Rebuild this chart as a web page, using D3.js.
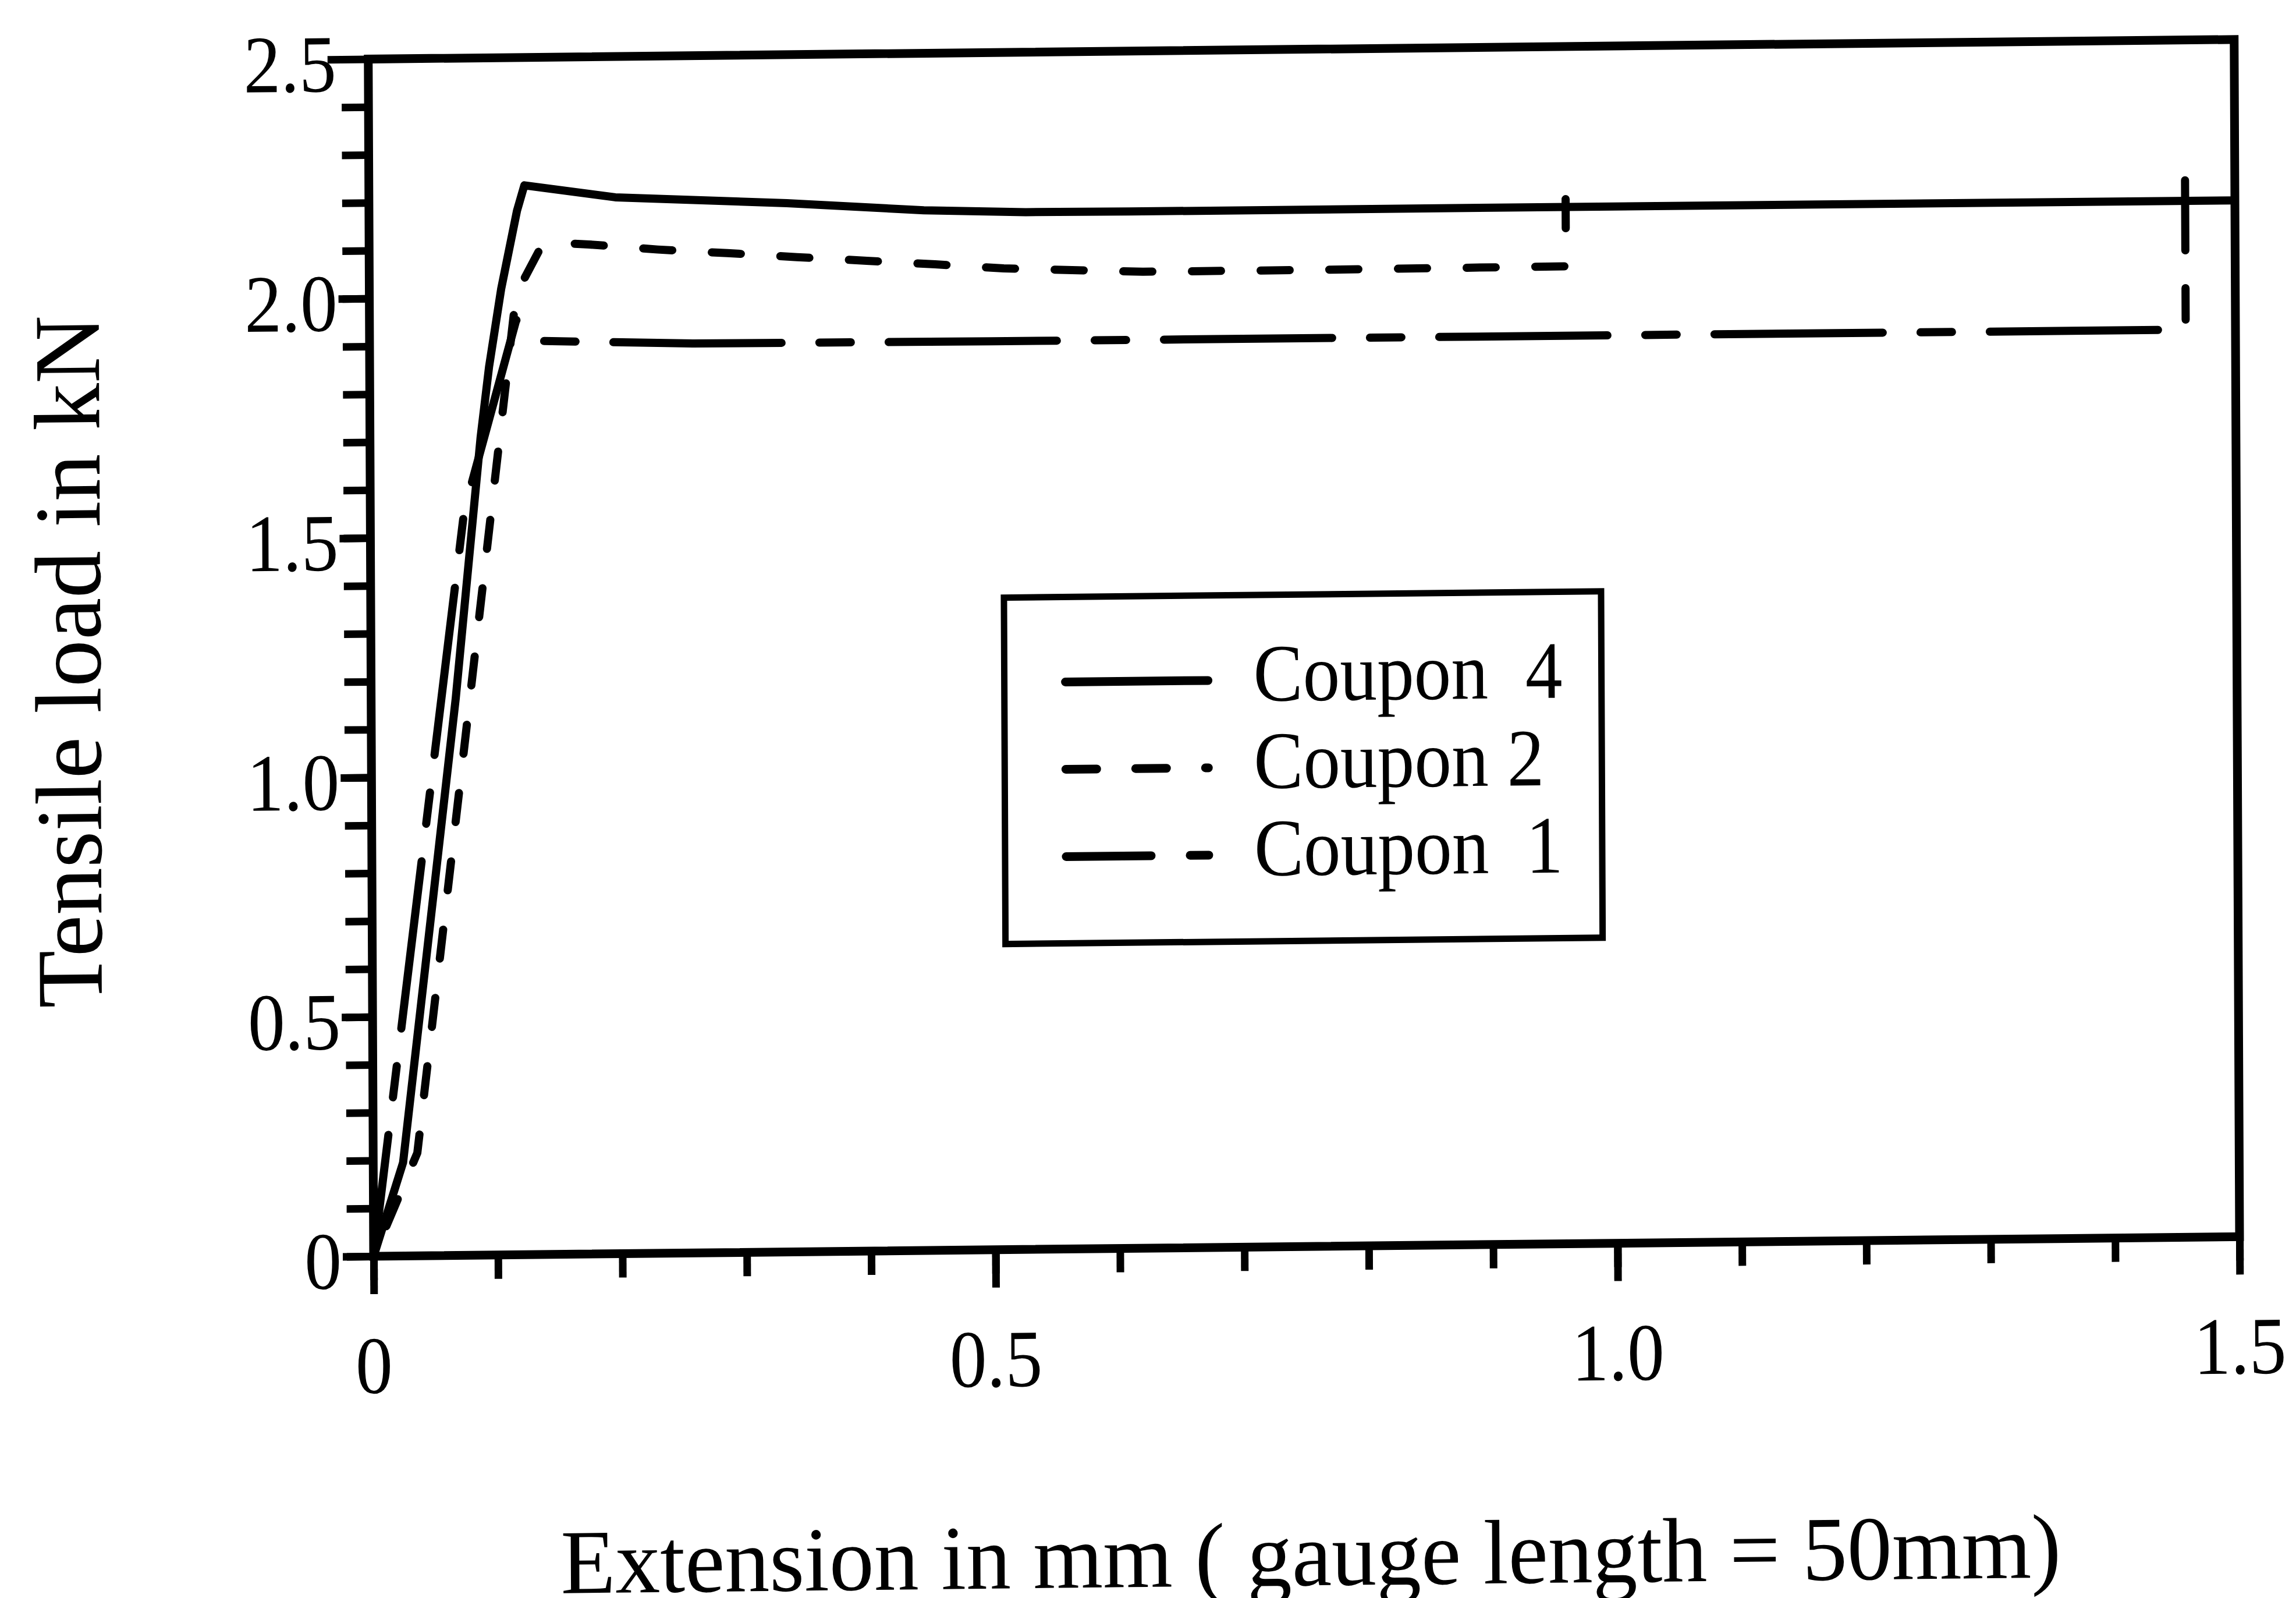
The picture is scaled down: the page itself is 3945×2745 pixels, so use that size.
<!DOCTYPE html>
<html lang="en">
<head>
<meta charset="utf-8">
<title>Tensile load against extension</title>
<script src="https://cdn.jsdelivr.net/npm/d3@7"></script>
<style>
  body { margin: 0; background: #fff; }
  svg text { font-family: "Liberation Serif", "Times New Roman", serif; fill: #000; white-space: pre; }
</style>
</head>
<body>
<script>
// extension in mm, tensile load in kN, one array per coupon
var coupon4 = [[0, 0], [0.024, 0.195], [0.068, 1.163], [0.089, 1.709], [0.096, 1.855], [0.106, 2.017],
               [0.119, 2.18], [0.125, 2.233], [0.198, 2.206], [0.336, 2.19], [0.446, 2.172], [0.528, 2.166],
               [0.611, 2.165], [1.0, 2.165], [1.5, 2.164]];
var coupon2 = [[0, 0], [0.0355, 0.215], [0.0758, 1.085], [0.118, 2.006], [0.138, 2.103], [0.152, 2.112],
               [0.177, 2.108], [0.232, 2.096], [0.288, 2.087], [0.344, 2.077], [0.400, 2.068], [0.455, 2.059],
               [0.510, 2.049], [0.565, 2.044], [0.622, 2.039], [0.75, 2.039], [0.962, 2.041], [0.962, 2.198]];
var coupon1 = [[0, 0], [0.0755, 1.555], [0.118, 1.952], [0.131, 1.908], [0.26, 1.899], [0.5, 1.897],
               [1.0, 1.896], [1.46, 1.895], [1.46, 2.207]];

var xTickLabels = ["0", "0.5", "1.0", "1.5"];
var yTickLabels = ["0", "0.5", "1.0", "1.5", "2.0", "2.5"];
var legendLabels = ["Coupon  4", "Coupon 2", "Coupon  1"];

var W = 3945, H = 2745;
var x = d3.scaleLinear().domain([0, 1.5]).range([642, 3848]);
var y = d3.scaleLinear().domain([0, 2.5]).range([2158, 101.5]);

var svg = d3.select("body").append("svg")
    .attr("width", W).attr("height", H);
svg.append("rect").attr("width", W).attr("height", H).attr("fill", "#fff");

// the printed figure sits slightly askew on the page
var g = svg.append("g")
    .attr("transform", "matrix(1,-0.0105,0.0045,1,-9.711,6.741)");

// frame
g.append("rect")
    .attr("x", x(0)).attr("y", y(2.5))
    .attr("width", x(1.5) - x(0)).attr("height", y(0) - y(2.5))
    .attr("fill", "none").attr("stroke", "#000").attr("stroke-width", 15);

function tickAxis(axis, tx, ty) {
  var a = g.append("g").attr("transform", "translate(" + tx + "," + ty + ")").call(axis);
  a.select(".domain").remove();
  a.selectAll("line").attr("stroke", "#000").attr("stroke-width", 13);
  a.selectAll("text").remove();
  return a;
}

tickAxis(d3.axisLeft(y).tickValues(d3.range(0, 25).map(function(i) { return i / 10; })).tickSize(46), x(0), 0);
tickAxis(d3.axisLeft(y).tickValues([0, 0.5, 1.0, 1.5, 2.0]).tickSize(53), x(0), 0);
tickAxis(d3.axisLeft(y).tickValues([2.5]).tickSize(70), x(0), 0);
tickAxis(d3.axisBottom(x).tickValues(d3.range(0, 16).map(function(i) { return i / 10; })).tickSize(41), 0, y(0));
tickAxis(d3.axisBottom(x).tickValues([0, 0.5, 1.0, 1.5]).tickSize(65), 0, y(0));

// tick labels
g.selectAll(".ylab").data(yTickLabels).enter().append("text")
    .attr("class", "ylab")
    .attr("text-anchor", "end")
    .attr("font-size", 140)
    .attr("transform", function(d) { return "translate(587," + (y(+d) + 55) + ") scale(0.91,1)"; })
    .text(function(d) { return d; });

g.selectAll(".xlab").data(xTickLabels).enter().append("text")
    .attr("class", "xlab")
    .attr("text-anchor", "middle")
    .attr("font-size", 140)
    .attr("transform", function(d) { return "translate(" + x(+d) + "," + (y(0) + 235) + ") scale(0.91,1)"; })
    .text(function(d) { return d; });

// axis titles
g.append("text")
    .attr("text-anchor", "middle")
    .attr("font-size", 162)
    .attr("transform", "translate(177,1131) rotate(-90)")
    .text("Tensile load in kN");

g.append("text")
    .attr("text-anchor", "middle")
    .attr("font-size", 157)
    .attr("transform", "translate(2250,2740) scale(0.98,1)")
    .text("Extension in mm ( gauge length = 50mm)");

// curves
var line = d3.line()
    .x(function(d) { return x(d[0]); })
    .y(function(d) { return y(d[1]); });

// pixel length along a curve up to extension xt
function lengthTo(data, xt) {
  var len = 0;
  for (var i = 1; i < data.length; i++) {
    var x0 = x(data[i - 1][0]), y0 = y(data[i - 1][1]);
    var x1 = x(data[i][0]), y1 = y(data[i][1]);
    if (data[i][0] >= xt && data[i][0] > data[i - 1][0]) {
      var t = (xt - data[i - 1][0]) / (data[i][0] - data[i - 1][0]);
      return len + t * Math.hypot(x1 - x0, y1 - y0);
    }
    len += Math.hypot(x1 - x0, y1 - y0);
  }
  return len;
}

// dash phase: a short dash of coupon 1 and a dash of coupon 2 begin just after each peak
var off1 = (354 - lengthTo(coupon1, x.invert(942))) % 473;
var off2 = (0 - lengthTo(coupon2, x.invert(1113))) % 118;

var series = [
  { data: coupon4, dash: null, offset: 0 },
  { data: coupon2, dash: "50 68", offset: off2 },
  { data: coupon1, dash: "289 65 54 65", offset: off1 }
];

series.forEach(function(s) {
  g.append("path")
      .attr("d", line(s.data))
      .attr("fill", "none")
      .attr("stroke", "#000")
      .attr("stroke-width", 14)
      .attr("stroke-linejoin", "round")
      .attr("stroke-linecap", "round")
      .attr("stroke-dasharray", s.dash)
      .attr("stroke-dashoffset", s.offset);
});

// legend
var legend = g.append("g");
legend.append("rect")
    .attr("x", 1730).attr("y", 1038).attr("width", 1026).attr("height", 595)
    .attr("fill", "#fff").attr("stroke", "#000").attr("stroke-width", 11);

var legendDash = [null, "53 67", "146 67 53 67"];
legendLabels.forEach(function(lab, i) {
  var ly = 1184 + i * 150;
  legend.append("line")
      .attr("x1", 1835).attr("x2", 2080).attr("y1", ly).attr("y2", ly)
      .attr("stroke", "#000").attr("stroke-width", 15)
      .attr("stroke-linecap", "round")
      .attr("stroke-dasharray", legendDash[i]);
  legend.append("text")
      .attr("font-size", 140)
      .attr("transform", "translate(2158," + (ly + 36) + ") scale(0.91,1)")
      .text(lab);
});
</script>
</body>
</html>
